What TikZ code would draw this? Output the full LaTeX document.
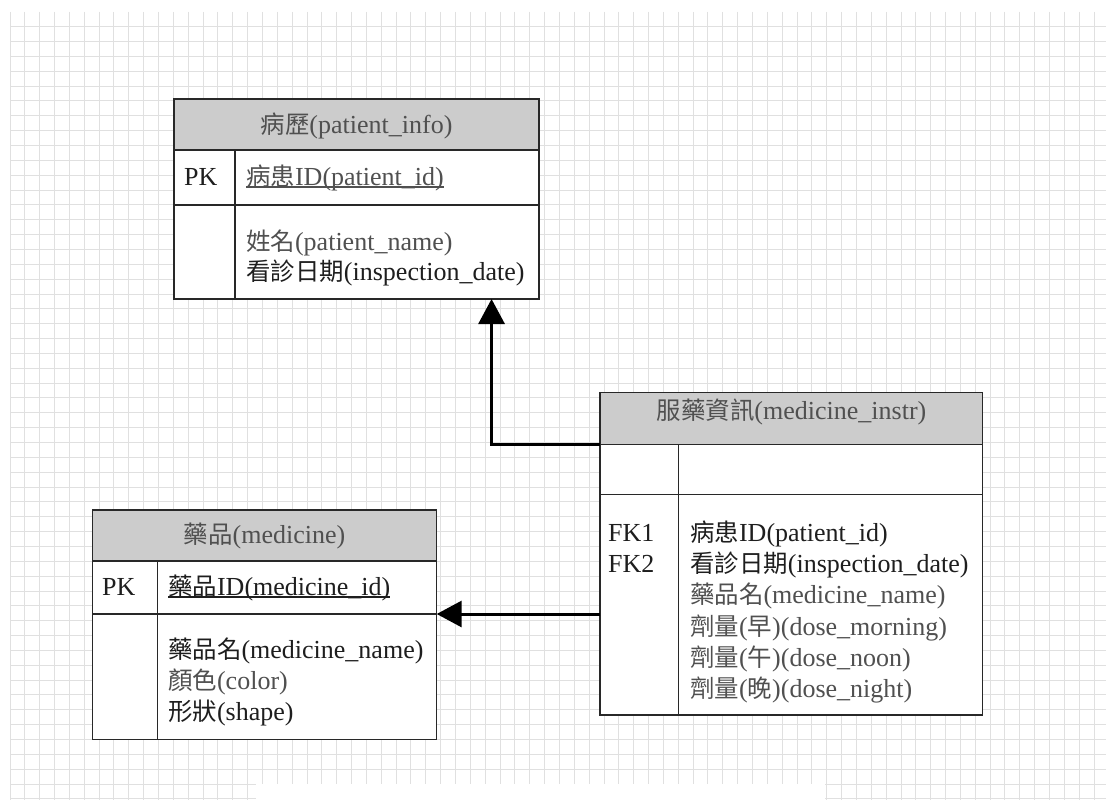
\documentclass[tikz,border=0pt]{standalone}
\usepackage{fontspec}
\setmainfont{Liberation Serif}
\newfontfamily\cjk{Noto Sans CJK TC}[Scale=0.94]
\usetikzlibrary{arrows.meta,calc}

% key column text with a rule just under the baseline
\newcommand\keyline[1]{\sbox0{#1}\rlap{\rule[-2.6pt]{\wd0}{1.2pt}}\usebox0}

\definecolor{gridgray}{RGB}{224,224,224}
\definecolor{headgray}{RGB}{204,204,204}
\definecolor{tblline}{RGB}{40,40,40}
\definecolor{txtdark}{RGB}{30,30,30}
\definecolor{txtsoft}{RGB}{80,80,80}

\tikzset{
  gridline/.style={draw=gridgray, line width=1pt},
  tblhead/.style={draw=tblline, fill=headgray, line width=1.4pt, rectangle,
                  inner sep=0pt, outer sep=0pt, anchor=north west},
  tblcell/.style={draw=tblline, fill=white, line width=1.4pt, rectangle,
                  inner sep=0pt, outer sep=0pt, anchor=north west},
  divider/.style={draw=tblline, line width=1.4pt},
  txt/.style={inner sep=0pt, font=\fontsize{26}{30}\selectfont, text=txtdark},
  soft/.style={txt, text=txtsoft},
  fk/.style={draw=black, line width=3pt, -{Triangle[length=25pt,width=26pt]}},
}

\begin{document}
\begin{tikzpicture}[x=1pt,y=-1pt]
\useasboundingbox (0,0) rectangle (1106,800);
\fill[white] (0,0) rectangle (1106,800);

% squared paper
\foreach \k in {0,...,73}
  \draw[gridline] ({10+14.85*\k},12) -- ({10+14.85*\k},800);
\foreach \k in {0,...,52}
  \draw[gridline] (10,{26.7+14.85*\k}) -- (1106,{26.7+14.85*\k});
\fill[white] (256,783.6) rectangle (825,801);

% table: patient_info
\node[tblhead, minimum width=365pt, minimum height=51pt] (phead) at (174,99) {};
\node[tblcell, minimum width=365pt, minimum height=55pt] (ppk) at (phead.south west) {};
\node[tblcell, minimum width=365pt, minimum height=94pt] (pattr) at (ppk.south west) {};
\draw[divider] ([xshift=61pt]ppk.north west) -- ([xshift=61pt]pattr.south west);

% table: medicine
\node[tblhead, minimum width=344.4pt, minimum height=51pt] (mhead) at (92.3,510) {};
\node[tblcell, minimum width=344.4pt, minimum height=53pt] (mpk) at (mhead.south west) {};
\node[tblcell, minimum width=344.4pt, minimum height=125.3pt] (mattr) at (mpk.south west) {};
\draw[divider] ([xshift=65.4pt]mpk.north west) -- ([xshift=65.4pt]mattr.south west);

% table: medicine_instr
\node[tblhead, minimum width=382.7pt, minimum height=52.2pt] (ihead) at (600,392.3) {};
\node[tblcell, minimum width=382.7pt, minimum height=49.8pt] (ikey) at (ihead.south west) {};
\node[tblcell, minimum width=382.7pt, minimum height=220.7pt] (iattr) at (ikey.south west) {};
\draw[divider] ([xshift=78.3pt]ikey.north west) -- ([xshift=78.3pt]iattr.south west);

% foreign keys
\draw[fk] (ihead.south west) -| ($(pattr.south west)!0.87!(pattr.south east)$);
\draw[fk] (iattr.west |- mpk.south east) -- (mpk.south east);

% patient_info texts
\node[soft, anchor=base] (tph) at (356.5,133) {{\cjk 病歷}(patient\_info)};
\node[txt, anchor=base west] (tppk) at (184,185) {PK};
\node[soft, anchor=base west] (tpid) at (246,185) {\keyline{{\cjk 病患}ID(patient\_id)}};
\node[soft, anchor=base west] (tpname) at (246,250) {{\cjk 姓名}(patient\_name)};
\node[txt, anchor=base west] (tpdate) at (246,280) {{\cjk 看診日期}(inspection\_date)};

% medicine texts
\node[soft, anchor=base] (tmh) at (264.5,543) {{\cjk 藥品}(medicine)};
\node[txt, anchor=base west] (tmpk) at (102,595) {PK};
\node[txt, anchor=base west] (tmid) at (168,595) {\keyline{{\cjk 藥品}ID(medicine\_id)}};
\node[txt, anchor=base west] (tmname) at (168,658) {{\cjk 藥品名}(medicine\_name)};
\node[soft, anchor=base west] (tmcolor) at (168,689.5) {{\cjk 顏色}(color)};
\node[txt, anchor=base west] (tmshape) at (168,720.5) {{\cjk 形狀}(shape)};

% medicine_instr texts
\node[soft, anchor=base] (tih) at (791.5,419.5) {{\cjk 服藥資訊}(medicine\_instr)};
\node[txt, anchor=base west] (tifk1) at (608,541.5) {FK1};
\node[txt, anchor=base west] (tifk2) at (608,572.7) {FK2};
\node[txt, anchor=base west] (tipid) at (690,541.5) {{\cjk 病患}ID(patient\_id)};
\node[txt, anchor=base west] (tidate) at (690,572.7) {{\cjk 看診日期}(inspection\_date)};
\node[soft, anchor=base west] (timname) at (690,603.9) {{\cjk 藥品名}(medicine\_name)};
\node[soft, anchor=base west] (timorn) at (690,635.1) {{\cjk 劑量}({\cjk 早})(dose\_morning)};
\node[soft, anchor=base west] (tinoon) at (690,666.3) {{\cjk 劑量}({\cjk 午})(dose\_noon)};
\node[soft, anchor=base west] (tinight) at (690,697.5) {{\cjk 劑量}({\cjk 晚})(dose\_night)};
\end{tikzpicture}
\end{document}
